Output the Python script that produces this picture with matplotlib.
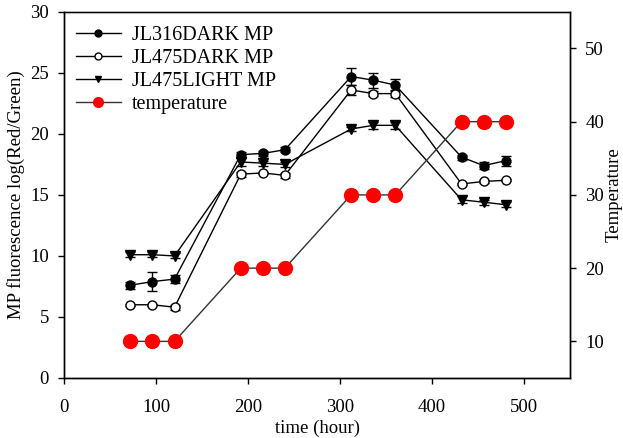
import matplotlib
matplotlib.use("Agg")
import matplotlib.pyplot as plt
from matplotlib.lines import Line2D

plt.rcParams['font.family'] = ['Liberation Serif', 'DejaVu Serif']

time = [72, 96, 120, 192, 216, 240, 312, 336, 360, 432, 456, 480]
jl316_dark = [7.6, 7.9, 8.1, 18.3, 18.4, 18.7, 24.7, 24.4, 24.0, 18.1, 17.4, 17.8]
jl316_dark_err = [0.3, 0.8, 0.3, 0.2, 0.2, 0.2, 0.7, 0.6, 0.5, 0.2, 0.3, 0.4]
jl475_dark = [6.0, 6.0, 5.8, 16.7, 16.8, 16.6, 23.6, 23.3, 23.3, 15.9, 16.1, 16.2]
jl475_dark_err = [0.1, 0.1, 0.2, 0.2, 0.1, 0.2, 0.4, 0.2, 0.3, 0.1, 0.1, 0.1]
jl475_light = [10.1, 10.1, 10.0, 17.7, 17.6, 17.5, 20.4, 20.7, 20.7, 14.6, 14.4, 14.2]
jl475_light_err = [0.2, 0.2, 0.2, 0.3, 0.2, 0.2, 0.2, 0.3, 0.3, 0.3, 0.2, 0.2]
temperature = [10, 10, 10, 20, 20, 20, 30, 30, 30, 40, 40, 40]
labels = ['JL316DARK MP', 'JL475DARK MP', 'JL475LIGHT MP', 'temperature']

fig = plt.figure(figsize=(6.23, 4.38), dpi=100)
ax = fig.add_axes([0.103, 0.137, 0.812, 0.836])
ax2 = ax.twinx()

eb_kw = dict(color='black', lw=1, capsize=3.5, elinewidth=1, capthick=1, ms=6.5)
ax.errorbar(time, jl316_dark, yerr=jl316_dark_err, fmt='-o', mfc='black', mec='black', **eb_kw)
ax.errorbar(time, jl475_dark, yerr=jl475_dark_err, fmt='-o', mfc='white', mec='black', **eb_kw)
ax.errorbar(time, jl475_light, yerr=jl475_light_err, fmt='-v', mfc='black', mec='black', **eb_kw)
ax2.plot(time, temperature, '-o', color='#333333', lw=1, mfc='red', mec='red', ms=10)

ax.set_xlim(0, 550)
ax.set_ylim(0, 30)
ax2.set_ylim(5, 55)
ax.set_xticks([0, 100, 200, 300, 400, 500])
ax.set_yticks([0, 5, 10, 15, 20, 25, 30])
ax2.set_yticks([10, 20, 30, 40, 50])

for a in (ax, ax2):
    a.tick_params(direction='out', labelsize=13.5, length=4, width=1, pad=7)
    for s in a.spines.values():
        s.set_linewidth(1)
ax.tick_params(axis='x', pad=11)
ax.spines['top'].set_color('#555555')

ax.set_xlabel('time (hour)', fontsize=13.5, labelpad=3)
ax.set_ylabel('MP fluorescence log(Red/Green)', fontsize=13.5, labelpad=4)
ax2.set_ylabel('Temperature', fontsize=13.5, labelpad=1)

handles = [
    Line2D([], [], color='black', lw=1, marker='o', mfc='black', mec='black', ms=5),
    Line2D([], [], color='black', lw=1, marker='o', mfc='white', mec='black', ms=5),
    Line2D([], [], color='black', lw=1, marker='v', mfc='black', mec='black', ms=5),
    Line2D([], [], color='#333333', lw=1, marker='o', mfc='red', mec='red', ms=7),
]
leg = ax.legend(handles, labels, loc='upper left', frameon=False, fontsize=14.5,
                handlelength=2.2, bbox_to_anchor=(-0.012, 1.012), labelspacing=0.2,
                handletextpad=0.55)

fig.savefig('out.png', dpi=100)
